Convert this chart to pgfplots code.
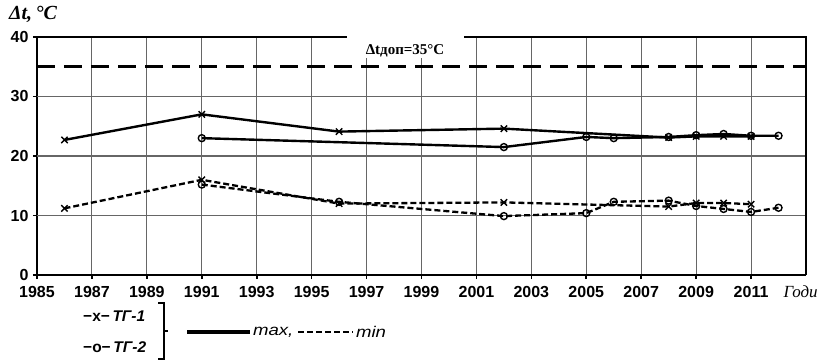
\documentclass[border=0pt]{standalone}
\usepackage{fontspec}
\setmainfont{Liberation Sans}
\newfontfamily\seriffont{Liberation Serif}
\usepackage{pgfplots}
\pgfplotsset{compat=1.18}
\begin{document}
\begin{tikzpicture}[x=1pt,y=1pt]
\useasboundingbox (-37,-84) rectangle (785,275);
\begin{axis}[
  at={(0,0)}, anchor=south west,
  scale only axis, width=769pt, height=238pt,
  xmin=1985, xmax=2013, ymin=0, ymax=40,
  axis lines=left,
  axis line style={line width=2.6pt,-},
  xtick={1985,1987,...,2011},
  ytick={0,10,20,30,40},
  /pgf/number format/assume math mode=true,
  xticklabel style={/pgf/number format/1000 sep={}, font=\bfseries\fontsize{16}{16}\selectfont, yshift=-4pt},
  yticklabel style={font=\bfseries\fontsize{16}{16}\selectfont, xshift=-1pt},
  tick style={black, line width=1.6pt},
  tick align=outside, major tick length=4pt,
  xmajorgrids=true,
  extra y ticks={10,20,30},
  extra y tick style={ymajorgrids=true, yticklabels={}, major tick length=0pt},
  grid style={black!60, line width=1.1pt},
  clip=false,
]
% top and right borders
\draw[line width=1.9pt] (axis cs:1985,40) -- (axis cs:1996.3,40);
\draw[line width=1.9pt] (axis cs:2000.56,40) -- (axis cs:2013,40) -- (axis cs:2013,0);
% white gap behind label
\fill[white] (axis cs:1996.4,36.4) rectangle (axis cs:2000.5,40.2);
% permissible line
\addplot[black, line width=3.2pt, dash pattern=on 18pt off 9pt, forget plot] coordinates {(1985,35) (2013,35)};
\node[font=\seriffont\bfseries\fontsize{15}{15}\selectfont] at (axis cs:1998.4,37.6) {Δtдоп=35°C};
% TG-1 max
\addplot[black, line width=2.4pt, mark=x, mark size=4.5pt, mark options={solid, line width=1.4pt}] coordinates {
 (1986,22.7) (1991,27.0) (1996,24.1) (2002,24.6) (2008,23.1) (2009,23.3) (2010,23.3) (2011,23.3)};
% TG-2 max
\addplot[black, line width=2.4pt, mark=o, mark size=3.5pt, mark options={solid, fill=white, line width=1.4pt}] coordinates {
 (1991,23.0) (2002,21.5) (2005,23.2) (2006,23.0) (2008,23.2) (2009,23.5) (2010,23.7) (2011,23.4) (2012,23.4)};
% TG-1 min
\addplot[black, line width=2.3pt, dash pattern=on 6pt off 3pt, mark=x, mark size=4.5pt, mark options={solid, line width=1.4pt}] coordinates {
 (1986,11.2) (1991,16.0) (1996,12.0) (2002,12.2) (2008,11.5) (2009,12.1) (2010,12.1) (2011,11.9)};
% TG-2 min
\addplot[black, line width=2.3pt, dash pattern=on 6pt off 3pt, mark=o, mark size=3.5pt, mark options={solid, fill=white, line width=1.4pt}] coordinates {
 (1991,15.2) (1996,12.3) (2002,9.9) (2005,10.4) (2006,12.3) (2008,12.5) (2009,11.6) (2010,11.1) (2011,10.6) (2012,11.3)};
\end{axis}
% axis titles
\node[font=\seriffont\bfseries\itshape\fontsize{20}{20}\selectfont] at (-4,261) {Δt,\,°C};
\node[font=\seriffont\itshape\fontsize{17}{17}\selectfont, anchor=west] at (743,-17) {Годи};
% legend
\node[font=\bfseries\itshape\fontsize{15.5}{15}\selectfont, anchor=west, inner sep=0pt] at (46,-41) {\upshape−x−\,\itshape ТГ-1};
\node[font=\bfseries\itshape\fontsize{15.5}{15}\selectfont, anchor=west, inner sep=0pt] at (46,-72) {\upshape−o−\,\itshape ТГ-2};
\draw[line width=1.8pt] (121,-28) -- (127,-28) -- (127,-84) -- (121,-84);
\draw[line width=1.4pt] (127,-56) -- (131,-56);
\draw[line width=3.2pt] (150,-57) -- (213,-57);
\node[font=\itshape\fontsize{15.5}{15}\selectfont, anchor=west, inner sep=1.5pt, xscale=1.2, transform shape] at (214,-57) {max,};
\draw[line width=2.6pt, dash pattern=on 6pt off 3pt] (261,-57) -- (316,-57);
\node[font=\itshape\fontsize{15.5}{15}\selectfont, anchor=west, inner sep=1.5pt, xscale=1.2, transform shape] at (317,-57) {min};
\end{tikzpicture}
\end{document}
